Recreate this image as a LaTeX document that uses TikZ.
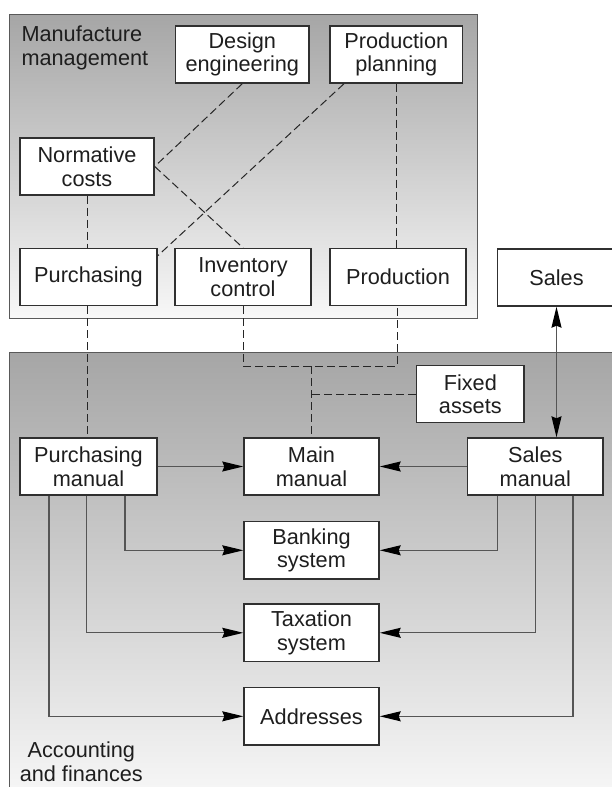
\documentclass[tikz,border=0pt]{standalone}
\usepackage{fontspec}
\setmainfont{Liberation Sans}
\usetikzlibrary{arrows.meta,calc}
\definecolor{txt}{HTML}{1E1E1E}
\definecolor{boxline}{HTML}{303030}
\definecolor{conn}{HTML}{555555}
\begin{document}
\begin{tikzpicture}[x=1pt,y=-1pt,
  every node/.style={font=\fontsize{21.7}{23.5}\selectfont, text=txt},
  unit/.style={draw=boxline, line width=1.4pt, fill=white, align=center, inner sep=0pt},
  panel/.style={draw=black!65, line width=1pt, top color=black!35, bottom color=black!3},
  dsh/.style={draw=black!85, line width=1pt, dash pattern=on 8pt off 4pt},
  tip/.style={},
  arr/.style={draw=conn, line width=1.3pt, -{Stealth[length=21pt,width=10pt,inset=2pt,color=black,fill=black]}},
  biarr/.style={draw=conn, line width=1.3pt, {Stealth[length=21pt,width=10pt,inset=2pt,color=black,fill=black]}-{Stealth[length=21pt,width=10pt,inset=2pt,color=black,fill=black]}}
]
\useasboundingbox (0,0) rectangle (612,787);
\fill[white] (0,0) rectangle (612,787);

% panels
\path[panel] (9.4,14) rectangle (477.7,318);
\path[panel] (9.4,352) rectangle (625,800);

\node[anchor=west, align=left] (mmlabel) at (18,48) {Manufacture\\management};
\node[align=center] (aflabel) at (81.3,761.5) {Accounting\\and finances};

% top nodes
\node[unit, minimum width=133.5pt, minimum height=57pt] (de) at (242.3,54.5) {Design\\engineering};
\node[unit, minimum width=132.5pt, minimum height=57pt] (pp) at (396.3,54.5) {Production\\planning};
\node[unit, minimum width=134pt, minimum height=57pt] (nc) at (87,166.5) {Normative\\costs};
\node[unit, minimum width=137pt, minimum height=57pt] (pu) at (88.5,277) {Purchasing};
\node[unit, minimum width=136pt, minimum height=57pt] (ic) at (243,277) {Inventory\\control};
\node[unit, minimum width=136pt, minimum height=57pt] (pr) at (398,277) {Production};
\node[unit, minimum width=118pt, minimum height=57pt] (sa) at (556.5,277.5) {Sales};

% bottom nodes
\node[unit, minimum width=107.5pt, minimum height=56.6pt] (fa) at (470.3,394) {Fixed\\assets};
\node[unit, minimum width=137pt, minimum height=57pt] (pm) at (88.5,466.5) {Purchasing\\manual};
\node[unit, minimum width=135pt, minimum height=57pt] (mm) at (311.5,466.5) {Main\\manual};
\node[unit, minimum width=135.4pt, minimum height=57pt] (sm) at (535.3,466.5) {Sales\\manual};
\node[unit, minimum width=135pt, minimum height=57.3pt] (bs) at (311.5,550.3) {Banking\\system};
\node[unit, minimum width=135pt, minimum height=57.7pt] (ts) at (311.5,632.8) {Taxation\\system};
\node[unit, minimum width=135pt, minimum height=57.3pt] (ad) at (311.5,716.3) {Addresses};

% dashed links in manufacture management
\draw[dsh] (de.south) -- (nc.east);
\draw[dsh] (nc.east) -- (ic.north);
\draw[dsh] ($(pp.south west)+(14.7,0)$) -- ($(pu.north east)+(0,8)$);
\draw[dsh] (nc.south) -- (nc.south |- pu.north);
\draw[dsh] (pp.south) -- (pp.south |- pr.north);

% dashed links to accounting
\coordinate (icturn) at (243,366);
\coordinate (prturn) at (397,366);
\coordinate (mid) at (311.5,366);
\draw[dsh] (pu.south -| nc.south) -- (nc.south |- pm.north);
\draw[dsh] (ic.south) -- (icturn) -- (prturn) -- (prturn |- pr.south);
\draw[dsh] (mid) -- (mm.north);
\draw[dsh] (fa.west) -- (fa.west -| mid);

% solid arrows
\draw[arr] (pm.east) -- (mm.west);
\draw[arr] (sm.west) -- (mm.east);
\draw[biarr] (sa.south) -- (sa.south |- sm.north);

\draw[arr] (pm.south -| 125,0) |- (bs.west);
\draw[arr] (pm.south -| 86.6,0) |- (ts.west);
\draw[arr] (pm.south -| 49,0) |- (ad.west);
\draw[arr] (sm.south -| 497.6,0) |- (bs.east);
\draw[arr] (sm.south -| 535.5,0) |- (ts.east);
\draw[arr] (sm.south -| 573,0) |- (ad.east);
\end{tikzpicture}
\end{document}
